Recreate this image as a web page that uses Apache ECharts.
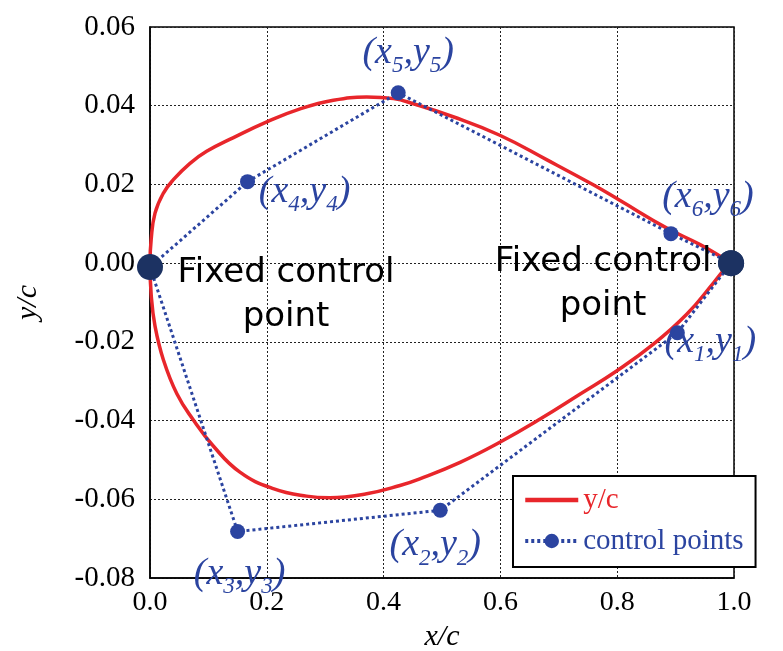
<!DOCTYPE html>
<html>
<head>
<meta charset="utf-8">
<script src="https://cdn.jsdelivr.net/npm/echarts@6/dist/echarts.min.js"></script>
<style>
  html, body { margin: 0; padding: 0; background: #fff; }
  #chart { width: 783px; height: 651px; }
</style>
</head>
<body>
<div id="chart"></div>
<script>
// y/c profile: trailing edge -> lower surface -> leading edge -> upper surface -> trailing edge
const curveX = [0.995, 0.988, 0.965, 0.919, 0.862, 0.799, 0.736, 0.668, 0.599, 0.531, 0.462, 0.428,
  0.371, 0.308, 0.268, 0.211, 0.154, 0.108, 0.074, 0.046, 0.023, 0.0086, 0.002, 0.0,
  0.002, 0.0086, 0.023, 0.040, 0.068, 0.097, 0.143, 0.200, 0.257, 0.314, 0.371, 0.417,
  0.451, 0.519, 0.599, 0.679, 0.759, 0.805, 0.885, 0.942, 0.995];
const curveY = [0.0, -0.0008, -0.0050, -0.0130, -0.0206, -0.0274, -0.0333, -0.0396, -0.0455, -0.0506, -0.0548, -0.0565,
  -0.0586, -0.0596, -0.0592, -0.0573, -0.0531, -0.0464, -0.0398, -0.0332, -0.0246, -0.0160, -0.0080, 0.0,
  0.0060, 0.0127, 0.0178, 0.0212, 0.0253, 0.0284, 0.0319, 0.0359, 0.0392, 0.0414, 0.0422, 0.0418,
  0.0405, 0.0372, 0.0325, 0.0263, 0.0199, 0.0159, 0.0089, 0.0047, 0.0];

// control polygon (fixed points have no index)
const ctrlX = [0.995, 0.903, 0.497, 0.150, 0.0, 0.167, 0.425, 0.892, 0.995];
const ctrlY = [0.0, -0.0177, -0.0628, -0.0682, -0.001, 0.0207, 0.0433, 0.0075, 0.0];
const ctrlIndex = [null, 1, 2, 3, null, 4, 5, 6, null];

const xMin = 0, xMax = 1, xStep = 0.2;
const yMin = -0.08, yMax = 0.06, yStep = 0.02;

const red = "#e8262b";
const blue = "#2b44a0";
const navy = "#1c3262";
const serif = "'Liberation Serif', 'Times New Roman', serif";

// label offsets (px) from each point
const labelOffset = {
  1: [33, 9],
  2: [-5, 35],
  3: [2, 42],
  4: [57, 10],
  5: [10, -40],
  6: [37, -37],
};

const ctrlData = ctrlX.map((x, i) => {
  const k = ctrlIndex[i];
  const item = { value: [x, ctrlY[i]] };
  if (k === null) {
    item.symbolSize = 26;
    item.itemStyle = { color: navy };
    if (i === 0 || i === 4) {
      item.label = {
        show: true,
        position: "inside",
        offset: i === 0 ? [-128, 21] : [136, 28],
        formatter: "Fixed control\npoint",
        fontFamily: "'DejaVu Sans', sans-serif",
        fontSize: 34,
        lineHeight: 44,
        align: "center",
        color: "#000",
      };
    }
  } else {
    item.label = {
      show: true,
      position: "inside",
      offset: labelOffset[k],
      formatter: "(x{s|" + k + "},y{s|" + k + "})",
      fontFamily: serif,
      fontStyle: "italic",
      fontSize: 38,
      lineHeight: 50,
      color: blue,
      rich: {
        s: { fontFamily: serif, fontStyle: "italic", fontSize: 23, lineHeight: 24, verticalAlign: "bottom", color: blue },
      },
    };
  }
  return item;
});

const chart = echarts.init(document.getElementById("chart"));
chart.setOption({
  animation: false,
  grid: {
    left: 150, top: 27, right: 49, bottom: 73,
    containLabel: false, outerBoundsMode: "none",
    show: true, borderColor: "#000", borderWidth: 1.5,
  },
  legend: {
    orient: "vertical",
    left: 513, top: 476,
    padding: [8, 12, 10, 10],
    itemWidth: 53, itemHeight: 18, itemGap: 9,
    backgroundColor: "#fff",
    borderColor: "#000", borderWidth: 2,
    textStyle: { fontFamily: serif, fontSize: 29, lineHeight: 32 },
    data: [
      { name: "y/c", textStyle: { color: red }, itemStyle: { opacity: 0 }, lineStyle: { width: 4.5 } },
      { name: "control points", textStyle: { color: blue }, lineStyle: { width: 4 } },
    ],
  },
  xAxis: {
    type: "value", min: xMin, max: xMax, interval: xStep,
    name: "x/c", nameLocation: "middle", nameGap: 40,
    nameTextStyle: { fontFamily: serif, fontStyle: "italic", fontSize: 30, color: "#000" },
    axisLine: { show: true, onZero: false, lineStyle: { color: "#000", width: 1.5 } },
    axisTick: { show: false },
    axisLabel: { fontFamily: serif, fontSize: 28, color: "#000", margin: 11, formatter: v => v.toFixed(1) },
    splitLine: { show: true, lineStyle: { color: "#222", width: 1, type: [2, 2] } },
  },
  yAxis: {
    type: "value", min: yMin, max: yMax, interval: yStep,
    name: "y/c", nameLocation: "middle", nameGap: 107,
    nameTextStyle: { fontFamily: serif, fontStyle: "italic", fontSize: 30, color: "#000" },
    axisLine: { show: true, onZero: false, lineStyle: { color: "#000", width: 1.5 } },
    axisTick: { show: false },
    axisLabel: { fontFamily: serif, fontSize: 29, color: "#000", margin: 15, formatter: v => v.toFixed(2) },
    splitLine: { show: true, lineStyle: { color: "#222", width: 1, type: [2, 2] } },
  },
  series: [
    {
      name: "y/c",
      type: "line",
      data: curveX.map((x, i) => [x, curveY[i]]),
      smooth: 0.45,
      showSymbol: false,
      symbol: "none",
      clip: false,
      lineStyle: { color: red, width: 3.5 },
      itemStyle: { color: red },
      z: 2,
    },
    {
      name: "control points",
      type: "line",
      data: ctrlData,
      symbol: "circle",
      symbolSize: 15,
      clip: false,
      lineStyle: { color: blue, width: 3, type: [3, 3] },
      itemStyle: { color: blue },
      z: 3,
    },
  ],
});
</script>
</body>
</html>
